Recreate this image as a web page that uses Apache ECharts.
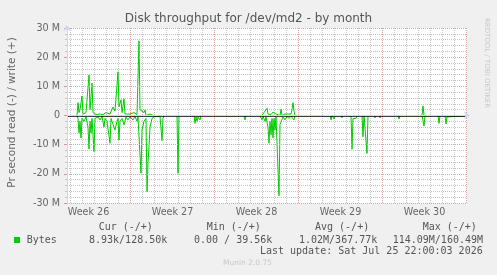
<!DOCTYPE html>
<html><head><meta charset="utf-8">
<script src="https://cdn.jsdelivr.net/npm/echarts@6/dist/echarts.min.js"></script>
<style>html,body{margin:0;padding:0;background:#f0f0f0}#c{width:497px;height:275px}</style>
</head><body><div id="c"></div>
<script>
// ---- data (values in M bytes/s, x in hours since start of the graph) ----
const titleText = 'Disk throughput for /dev/md2 - by month';
const yAxisName = 'Pr second read (-) / write (+)';
const yMin = -30, yMax = 30, yStep = 10, yMinorStep = 2;
const spanHours = 800;
const weekLabels = ['Week 26', 'Week 27', 'Week 28', 'Week 29', 'Week 30'];
const weekLabelHours = [43, 211, 379, 547, 715];
const weekLineHours = [127, 295, 463, 631, 799];
const dayLineHours = [7, 31, 55, 79, 103, 151, 175, 199, 223, 247, 271, 319, 343, 367, 391, 415, 439, 487, 511, 535, 559, 583, 607, 655, 679, 703, 727, 751, 775];

const writeHours  = [0, 20, 22, 24, 26, 30, 32, 38, 44, 46, 50, 52, 58, 66, 72, 78, 86, 92, 96, 102, 104, 108, 110, 114, 116, 126, 134, 140, 144, 146, 154, 156, 158, 166, 172, 390, 394, 400, 402, 408, 412, 418, 426, 428, 430, 436, 440, 448, 450, 452, 454, 456, 710, 712, 714, 800];
const writeValues = [0, 0, 4.4, 1, 2, 6.7, 0.5, 1, 13.9, 2, 11.1, 1, 0.3, 0.5, 0.3, 1, 0.5, 2.9, 1.5, 15, 3, 5.4, 1, 5.7, 0.5, 0.5, 1, 0.3, 25.6, 2, 1, 1.9, 0, 0.5, 0, 0, 1, 2.5, 0.5, 0.3, 1.2, 0.5, 0, 2.1, 0, 0.5, 0.3, 0.5, 2, 4.4, 1.5, 0, 0, 3.3, 0, 0];

const readHours  = [0, 20, 22, 24, 26, 28, 30, 34, 38, 42, 44, 46, 48, 50, 54, 56, 62, 66, 70, 74, 76, 80, 86, 88, 92, 96, 100, 102, 104, 106, 110, 114, 118, 122, 126, 132, 136, 140, 142, 146, 148, 150, 154, 158, 160, 162, 164, 166, 170, 174, 176, 180, 186, 190, 192, 194, 220, 222, 224, 254, 256, 258, 260, 262, 266, 268, 354, 356, 358, 386, 390, 392, 396, 398, 402, 404, 406, 408, 410, 412, 414, 416, 418, 422, 424, 426, 430, 432, 436, 440, 444, 448, 454, 456, 526, 528, 530, 534, 536, 548, 550, 552, 568, 570, 572, 576, 578, 580, 590, 592, 594, 598, 600, 602, 614, 616, 618, 624, 626, 628, 662, 664, 666, 710, 714, 716, 742, 744, 746, 756, 758, 760, 762, 764, 800];
const readValues = [0, 0, -1, -6, -2, -7.7, -1, -2, -0.5, -4, -11.5, -2, -6, -1, -12.4, -1, -0.5, -1.5, -0.3, -4, -1, -2, -9.5, -1, -3, -5, -2, -1, -8.4, -2, -1, -3.2, -0.5, -1.5, -0.5, -1.5, -0.3, -2, -0.5, -0.5, -19.8, -5, -2, -1, -26.1, -16, -10.7, -4, -1, -1.5, -0.3, 0, -0.3, -8.6, -1, 0, 0, -19.8, 0, 0, -2.7, -0.5, -2, -0.5, -1.5, 0, 0, -1.5, 0, 0, -1.5, -0.3, -2, -0.5, -4, -9.5, -2, -6.6, -1, -7.7, -1, -5, -0.5, -1, -27.5, -3, -3.2, -0.5, -1.5, -0.3, -1, -0.3, -1.5, 0, 0, -1.5, 0, -1.2, 0, 0, -0.8, 0, 0, -11.6, -1, -0.5, -1, 0, 0, -7.3, 0, 0, -13, 0, 0, -0.8, 0, 0, -0.8, 0, 0, -1.2, 0, 0, -3.6, 0, 0, -2.7, 0, 0, -2.9, -0.5, -1, 0, 0];

const legendSeriesName = 'Bytes';
const legendHeaders = ['Cur (-/+)', 'Min (-/+)', 'Avg (-/+)', 'Max (-/+)'];
const legendValues = ['8.93k/128.50k', '0.00 / 39.56k', '1.02M/367.77k', '114.09M/160.49M'];
const lastUpdate = 'Last update: Sat Jul 25 22:00:03 2026';
const footerText = 'Munin 2.0.75';
const watermarkText = 'RRDTOOL / TOBI OETIKER';

// ---- chart ----
const GREEN = '#00cc00';
const AXIS = '#CFD6F8';
const FONT = '#666666';
const GRIDGREY = '#c4c4c4';
const GRIDRED = '#eaa0a0';
const MONO = '"DejaVu Sans Mono", monospace';
const SANS = '"DejaVu Sans", sans-serif';

const hourCats = [];
for (let i = 0; i <= spanHours; i++) {
  const k = weekLabelHours.indexOf(i);
  hourCats.push(k >= 0 ? weekLabels[k] : '');
}
const zip = (xs, ys) => xs.map((x, i) => [x, ys[i]]);
const isWeek = (i) => weekLineHours.indexOf(i) >= 0;
const isLabel = (i) => weekLabelHours.indexOf(i) >= 0;

// day grid lines as vertical segments separated by gaps
const dayGridData = [];
dayLineHours.forEach((h) => { dayGridData.push([h, yMin], [h, yMax], [h, '-']); });

const chart = echarts.init(document.getElementById('c'), null, {renderer: 'canvas'});

const headerX = [98.7, 206.7, 315, 422.7];
const valueX = [89, 194, 299, 392.7];
const graphics = [];
legendHeaders.forEach((t, i) => graphics.push({type: 'text', x: headerX[i], y: 227.5,
  style: {text: t, font: '10px ' + MONO, fill: '#555', align: 'left', verticalAlign: 'middle'}}));
legendValues.forEach((t, i) => graphics.push({type: 'text', x: valueX[i], y: 240,
  style: {text: t, font: '10px ' + MONO, fill: '#555', align: 'left', verticalAlign: 'middle'}}));
graphics.push({type: 'rect', shape: {x: 14, y: 237, width: 6, height: 6}, style: {fill: GREEN}});
graphics.push({type: 'text', x: 26.7, y: 240,
  style: {text: legendSeriesName, font: '10px ' + MONO, fill: '#555', align: 'left', verticalAlign: 'middle'}});
graphics.push({type: 'text', x: 482.7, y: 251.7,
  style: {text: lastUpdate, font: '10px ' + MONO, fill: '#555', align: 'right', verticalAlign: 'middle'}});
graphics.push({type: 'text', x: 247.5, y: 263.5,
  style: {text: footerText, font: '7.5px ' + SANS, fill: '#c8c8c8', align: 'center', verticalAlign: 'middle'}});
graphics.push({type: 'text', x: 487, y: 63, rotation: -Math.PI / 2,
  style: {text: watermarkText, font: '7px ' + SANS, fill: '#c8c8c8', align: 'center', verticalAlign: 'middle'}});
graphics.push({type: 'text', x: 12, y: 112.5, rotation: Math.PI / 2,
  style: {text: yAxisName, font: '10.5px ' + SANS, fill: FONT, align: 'center', verticalAlign: 'middle'}});

const catAxis = (extra) => Object.assign({type: 'category', data: hourCats, boundaryGap: false, position: 'bottom',
  axisLine: {show: false}}, extra);

chart.setOption({
  animation: false,
  backgroundColor: '#f0f0f0',
  title: {text: titleText, left: 'center', top: 8,
    textStyle: {fontFamily: SANS, fontSize: 12, fontWeight: 'normal', color: '#555'}},
  grid: {left: 67, top: 28, width: 400, height: 175, show: true, backgroundColor: '#ffffff', borderWidth: 0},
  graphic: graphics,
  xAxis: [
    {type: 'value', min: 0, max: spanHours, z: 8,
      axisLine: {show: true, lineStyle: {color: AXIS, width: 1}, symbol: ['none', 'arrow'], symbolSize: [6, 6], symbolOffset: [0, 3]},
      axisTick: {show: false}, axisLabel: {show: false}, splitLine: {show: false}},
    catAxis({z: 4,
      axisTick: {show: true, length: 2, interval: isWeek, lineStyle: {color: '#e89090'}},
      axisLabel: {show: false},
      splitLine: {show: true, interval: isWeek, lineStyle: {color: GRIDRED, width: 1, type: [1, 1]}}}),
    catAxis({z: 5,
      axisTick: {show: false},
      axisLabel: {show: true, margin: 4, interval: isLabel, fontFamily: SANS, fontSize: 9.6, color: FONT},
      splitLine: {show: false}})
  ],
  yAxis: [
    {type: 'value', min: yMin, max: yMax, interval: yStep, z: 8,
      axisLine: {show: true, lineStyle: {color: AXIS, width: 1}, symbol: ['none', 'arrow'], symbolSize: [6, 6], symbolOffset: [0, 3]},
      axisTick: {show: true, length: 3, lineStyle: {color: '#e89090'}},
      axisLabel: {margin: 7, fontFamily: SANS, fontSize: 9.6, color: FONT,
        formatter: (v) => v === 0 ? '0' : v + ' M'},
      splitLine: {show: true, lineStyle: {color: GRIDRED, width: 1, type: [1, 1]}}},
    {type: 'value', min: yMin, max: yMax, interval: yMinorStep, position: 'left', z: 2,
      axisLine: {show: false},
      axisTick: {show: true, length: 2, lineStyle: {color: GRIDGREY}},
      axisLabel: {show: false},
      splitLine: {show: true, lineStyle: {color: GRIDGREY, width: 1, type: [1, 1]}}}
  ],
  series: [
    {type: 'line', name: 'daygrid', xAxisIndex: 0, yAxisIndex: 0, data: dayGridData, z: 3, silent: true,
      showSymbol: false, connectNulls: false, lineStyle: {color: GRIDGREY, width: 1, type: [1, 1]},
      itemStyle: {color: GRIDGREY}, emphasis: {disabled: true}},
    {type: 'line', name: 'write', xAxisIndex: 0, yAxisIndex: 0, data: zip(writeHours, writeValues), showSymbol: false,
      lineStyle: {color: GREEN, width: 1}, itemStyle: {color: GREEN}, z: 6},
    {type: 'line', name: 'read', xAxisIndex: 0, yAxisIndex: 0, data: zip(readHours, readValues), showSymbol: false,
      lineStyle: {color: GREEN, width: 1}, itemStyle: {color: GREEN}, z: 6,
      markLine: {silent: true, symbol: ['none', 'none'], label: {show: false}, z: 7,
        lineStyle: {color: '#000', width: 1.5, type: 'solid'}, data: [{yAxis: 0}]}}
  ]
});
</script>
</body></html>
